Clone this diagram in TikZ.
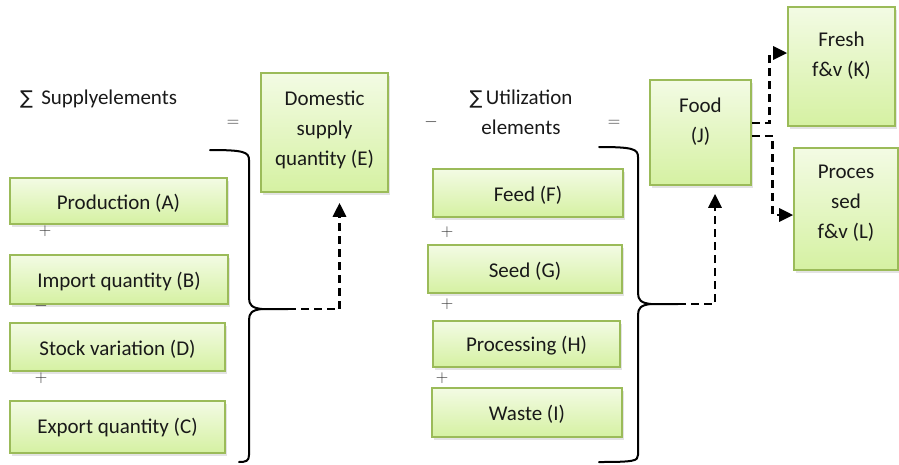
\documentclass[tikz,border=0pt]{standalone}
\usepackage{fontspec}
\setmainfont{Carlito}
\newfontfamily\symfont{DejaVu Sans}
\usetikzlibrary{arrows.meta,shadows,calc}
\definecolor{gborder}{HTML}{9BBB59}
\definecolor{gtop}{HTML}{F3FBE4}
\definecolor{gbot}{HTML}{D5F1A2}
\tikzset{
 gbox/.style={draw=gborder, line width=1.6pt, top color=gtop, bottom color=gbot,
   drop shadow={shadow xshift=1.5pt, shadow yshift=-3pt, opacity=0.22}, inner sep=0pt},
 txt/.style={font=\fontsize{21}{30}\selectfont, align=center, text=black!90, inner sep=0pt},
 op/.style={font=\fontsize{16}{20}\selectfont, text=black!80, inner sep=0pt},
 brace/.style={line width=2pt, line cap=round, line join=round},
 darr/.style={line width=2.9pt, dash pattern=on 8pt off 5pt, -{Triangle[length=14pt,width=13pt]}},
}
\begin{document}
\begin{tikzpicture}[x=1pt,y=-1pt]
\fill[white] (0,0) rectangle (899,464);
\useasboundingbox (0,0) rectangle (899,464);

% left column boxes
\node[gbox, minimum width=217pt, minimum height=46pt] (A) at (118.5,201) {};
\node[txt] (At) at (118.5,203) {Production (A)};
\node[gbox, minimum width=218pt, minimum height=49pt] (B) at (119,279.5) {};
\node[txt] (Bt) at (119,281.5) {Import quantity (B)};
\node[gbox, minimum width=215pt, minimum height=48pt] (D) at (117.5,347) {};
\node[txt] (Dt) at (117.5,349) {Stock variation (D)};
\node[gbox, minimum width=215pt, minimum height=52pt] (C) at (117.5,427) {};
\node[txt] (Ct) at (117.5,428) {Export quantity (C)};

% domestic supply
\node[gbox, minimum width=127pt, minimum height=119pt] (E) at (324.5,132.5) {};
\node[txt] (Et) at (324.5,130) {Domestic\\supply\\quantity (E)};

% utilization boxes
\node[gbox, minimum width=190pt, minimum height=48pt] (F) at (528,193) {};
\node[txt] (Ft) at (528,195) {Feed (F)};
\node[gbox, minimum width=194pt, minimum height=48pt] (G) at (525,269) {};
\node[txt] (Gt) at (525,271) {Seed (G)};
\node[gbox, minimum width=187pt, minimum height=46pt] (H) at (526.5,344) {};
\node[txt] (Ht) at (526.5,346) {Processing (H)};
\node[gbox, minimum width=190pt, minimum height=49pt] (I) at (527,412.5) {};
\node[txt] (It) at (527,414) {Waste (I)};

% food and sub-boxes
\node[gbox, minimum width=101pt, minimum height=105pt] (J) at (700.5,132.5) {};
\node[txt] (Jt) at (700.5,122) {Food\\(J)};
\node[gbox, minimum width=107pt, minimum height=119pt] (K) at (841.5,66.5) {};
\node[txt] (Kt) at (841.5,55.5) {Fresh\\f\&v (K)};
\node[gbox, minimum width=104pt, minimum height=122pt] (L) at (846,209) {};
\node[txt] (Lt) at (846,203.5) {Proces\\sed\\f\&v (L)};

% headings
\node[txt, anchor=west] (sup) at (20,99) {{\symfont\fontsize{19}{20}\selectfont ∑}\, Supplyelements};
\node[txt] (util) at (521,112) {{\symfont\fontsize{19}{20}\selectfont ∑}\,Utilization\\elements};

% operators
\node[op] (eq1) at (233,123) {$=$};
\node[op] (mi1) at (431,122) {$-$};
\node[op] (eq2) at (614,123) {$=$};
\node[op] (pA) at (45,231) {$+$};
\node[op] (mB) at (41,306) {$-$};
\node[op] (pD) at (41,378) {$+$};
\node[op] (pF) at (447,232) {$+$};
\node[op] (pG) at (447,304) {$+$};
\node[op] (pH) at (442,378) {$+$};

% braces
\coordinate (lt) at (288,309);
\draw[brace] (210,150) .. controls (244,150) and (249,152) .. (249,160) -- (249,298)
  .. controls (249,305) and (252,308) .. (262,309) -- (lt);
\draw[brace] (262,309) .. controls (252,310) and (249,313) .. (249,320) -- (249,455)
  .. controls (249,461) and (246,462) .. (239,462);
\coordinate (rt) at (678,304);
\draw[brace] (599,147) .. controls (633,147) and (638,149) .. (638,157) -- (638,293)
  .. controls (638,300) and (641,303) .. (651,304) -- (rt);
\draw[brace] (651,304) .. controls (641,305) and (638,308) .. (638,315) -- (638,455)
  .. controls (638,461) and (634,462) .. (599,462);

% dashed connectors
\draw[darr, shorten >=10pt] (lt) -| ([xshift=15pt]E.south);
\draw[darr, shorten >=8pt] (rt) -| ([xshift=14.5pt]J.south);
\draw[darr] ([yshift=9.5pt]J.east) -- ++(18,0) |- ([yshift=13.5pt]K.west);
\draw[darr] ([yshift=-3.5pt]J.east) -- ++(21,0) |- ([yshift=-6pt]L.west);
\end{tikzpicture}
\end{document}
